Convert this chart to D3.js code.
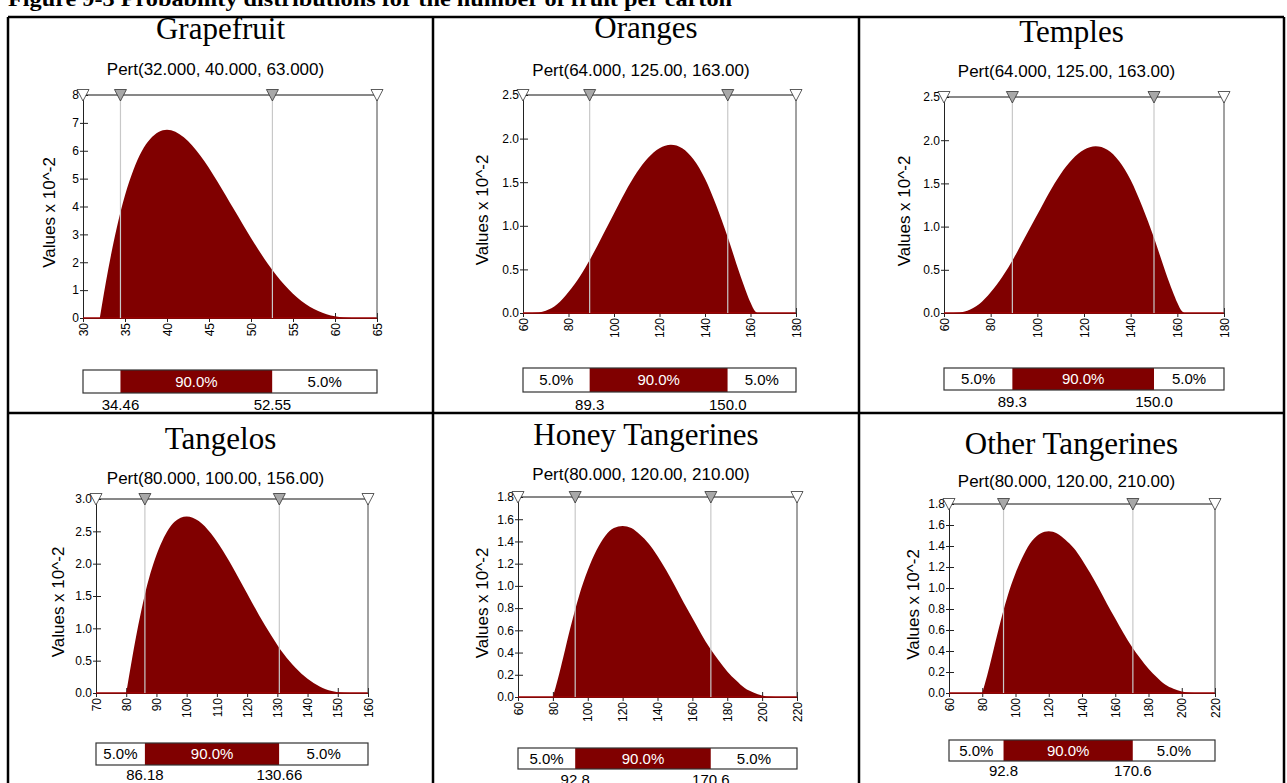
<!DOCTYPE html>
<meta charset="utf-8">
<style>
body { margin: 0; background: #fff; }
svg { display: block; }
.title { font-family: "Liberation Serif", "Times New Roman", serif; font-size: 31px; fill: #000; }
.caption { font-family: "Liberation Serif", "Times New Roman", serif; font-size: 20px; font-weight: bold; }
.pert { font-family: "Liberation Sans", Arial, sans-serif; font-size: 17px; }
.ylab { font-family: "Liberation Sans", Arial, sans-serif; font-size: 17px; }
.axis text { font-family: "Liberation Sans", Arial, sans-serif; font-size: 12px; fill: #000; }
.axis path, .axis line { stroke: #222; }
.bartext { font-family: "Liberation Sans", Arial, sans-serif; font-size: 15px; }
.pct { font-family: "Liberation Sans", Arial, sans-serif; font-size: 15px; }
</style>
<svg width="1287" height="783"></svg>
<script src="https://d3js.org/d3.v7.min.js"></script>
<script>

// --- data ---
var panelNames = ["Grapefruit", "Oranges", "Temples", "Tangelos", "Honey Tangerines", "Other Tangerines"];
var pertLabels = ["Pert(32.000, 40.000, 63.000)", "Pert(64.000, 125.00, 163.00)", "Pert(64.000, 125.00, 163.00)",
                  "Pert(80.000, 100.00, 156.00)", "Pert(80.000, 120.00, 210.00)", "Pert(80.000, 120.00, 210.00)"];

var xDomains = [[30, 65], [60, 180], [60, 180], [70, 160], [60, 220], [60, 220]];
var xTicks = [
  [30, 35, 40, 45, 50, 55, 60, 65],
  [60, 80, 100, 120, 140, 160, 180],
  [60, 80, 100, 120, 140, 160, 180],
  [70, 80, 90, 100, 110, 120, 130, 140, 150, 160],
  [60, 80, 100, 120, 140, 160, 180, 200, 220],
  [60, 80, 100, 120, 140, 160, 180, 200, 220]
];
var yMax = [8, 2.5, 2.5, 3.0, 1.8, 1.8];
var yTicks = [
  [0, 1, 2, 3, 4, 5, 6, 7, 8],
  [0, 0.5, 1.0, 1.5, 2.0, 2.5],
  [0, 0.5, 1.0, 1.5, 2.0, 2.5],
  [0, 0.5, 1.0, 1.5, 2.0, 2.5, 3.0],
  [0, 0.2, 0.4, 0.6, 0.8, 1.0, 1.2, 1.4, 1.6, 1.8],
  [0, 0.2, 0.4, 0.6, 0.8, 1.0, 1.2, 1.4, 1.6, 1.8]
];
var yDecimals = [0, 1, 1, 1, 1, 1];

// density curves (values x 10^-2)
var grapefruitX = [32, 33, 34, 35, 36, 38, 40, 42, 44, 46, 48, 50, 52, 54, 56, 58, 60, 62, 63];
var grapefruitY = [0, 1.74, 3.21, 4.40, 5.31, 6.42, 6.75, 6.48, 5.81, 4.90, 3.88, 2.87, 1.95, 1.18, 0.61, 0.25, 0.06, 0.002, 0];

var orangesX = [64, 67, 70, 75, 80, 85, 90, 95, 100, 105, 110, 115, 120, 125, 130, 135, 140, 145, 150, 155, 158, 160, 162, 163];
var orangesY = [0, 0.005, 0.025, 0.10, 0.24, 0.42, 0.64, 0.89, 1.14, 1.39, 1.61, 1.78, 1.89, 1.93, 1.89, 1.76, 1.54, 1.23, 0.87, 0.47, 0.25, 0.12, 0.02, 0];

var tangelosX = [80, 82, 84, 86, 88, 92, 96, 100, 104, 108, 112, 116, 120, 124, 128, 132, 136, 140, 144, 148, 152, 156];
var tangelosY = [0, 0.55, 1.05, 1.49, 1.85, 2.36, 2.65, 2.73, 2.66, 2.47, 2.20, 1.88, 1.54, 1.20, 0.89, 0.61, 0.39, 0.22, 0.10, 0.03, 0.004, 0];

var tangerinesX = [80, 83, 86, 90, 95, 100, 105, 110, 115, 120, 125, 130, 135, 140, 145, 150, 155, 160, 165, 170, 175, 180, 185, 190, 195, 200, 205, 210];
var tangerinesY = [0, 0.17, 0.36, 0.62, 0.91, 1.14, 1.32, 1.45, 1.52, 1.54, 1.52, 1.46, 1.38, 1.27, 1.14, 1.00, 0.85, 0.71, 0.57, 0.44, 0.33, 0.23, 0.15, 0.08, 0.04, 0.014, 0.002, 0];

var curveX = [grapefruitX, orangesX, orangesX, tangelosX, tangerinesX, tangerinesX];
var curveY = [grapefruitY, orangesY, orangesY, tangelosY, tangerinesY, tangerinesY];

var p5 = [34.46, 89.3, 89.3, 86.18, 92.8, 92.8];
var p95 = [52.55, 150.0, 150.0, 130.66, 170.6, 170.6];
var p5Labels = ["34.46", "89.3", "89.3", "86.18", "92.8", "92.8"];
var p95Labels = ["52.55", "150.0", "150.0", "130.66", "170.6", "170.6"];
var leftPct = ["", "5.0%", "5.0%", "5.0%", "5.0%", "5.0%"];
var midPct = ["90.0%", "90.0%", "90.0%", "90.0%", "90.0%", "90.0%"];
var rightPct = ["5.0%", "5.0%", "5.0%", "5.0%", "5.0%", "5.0%"];

var caption = "Figure 9-3 Probability distributions for the number of fruit per carton";

// --- layout (pixel positions of each cell) ---
var layout = [
  {cell: [8, 433],    left: 83,  right: 377,  top: 95,  bottom: 318, titleY: 39,  pertY: 75,  barTop: 370, barBottom: 393, pctY: 410, ylabX: 49},
  {cell: [433, 859],  left: 523, right: 796,  top: 95,  bottom: 313, titleY: 38,  pertY: 76,  barTop: 368, barBottom: 392, pctY: 410, ylabX: 482},
  {cell: [859, 1284], left: 944, right: 1224, top: 97,  bottom: 313, titleY: 42,  pertY: 77,  barTop: 368, barBottom: 390, pctY: 407, ylabX: 904},
  {cell: [8, 433],    left: 96,  right: 368,  top: 499, bottom: 693, titleY: 449, pertY: 484, barTop: 743, barBottom: 765, pctY: 780, ylabX: 58},
  {cell: [433, 859],  left: 518, right: 797,  top: 497, bottom: 697, titleY: 445, pertY: 480, barTop: 748, barBottom: 769, pctY: 785, ylabX: 482},
  {cell: [859, 1284], left: 949, right: 1215, top: 504, bottom: 693, titleY: 454, pertY: 487, barTop: 740, barBottom: 761, pctY: 776, ylabX: 913}
];

var red = "#800000";

var svg = d3.select("svg");

// caption, cut at the top edge like the scan
svg.append("text")
    .attr("class", "caption")
    .attr("x", 8)
    .attr("y", 6)
    .attr("textLength", 724)
    .attr("lengthAdjust", "spacingAndGlyphs")
    .text(caption);

// table grid
var gridX = [8, 433, 859, 1284];
var gridY = [17, 413];
svg.selectAll(".vgrid").data(gridX).enter().append("line")
    .attr("x1", function(d) { return d; }).attr("x2", function(d) { return d; })
    .attr("y1", 17).attr("y2", 800)
    .attr("stroke", "#000").attr("stroke-width", 2.5);
svg.selectAll(".hgrid").data(gridY).enter().append("line")
    .attr("x1", 8).attr("x2", 1284)
    .attr("y1", function(d) { return d; }).attr("y2", function(d) { return d; })
    .attr("stroke", "#000").attr("stroke-width", 2.5);

var triPath = "M-6,-5.5L6,-5.5L0,6Z";

function drawPanel(i) {
  var L = layout[i];
  var g = svg.append("g");
  var cx = (L.cell[0] + L.cell[1]) / 2;

  var x = d3.scaleLinear().domain(xDomains[i]).range([L.left, L.right]);
  var y = d3.scaleLinear().domain([0, yMax[i]]).range([L.bottom, L.top]);

  g.append("text").attr("class", "title")
      .attr("x", cx).attr("y", L.titleY)
      .attr("text-anchor", "middle")
      .text(panelNames[i]);

  g.append("text").attr("class", "pert")
      .attr("x", cx - 5).attr("y", L.pertY)
      .attr("text-anchor", "middle")
      .text(pertLabels[i]);

  g.append("text").attr("class", "ylab")
      .attr("transform", "translate(" + L.ylabX + "," + ((L.top + L.bottom) / 2 + 6) + ") rotate(-90)")
      .attr("dy", "0.35em")
      .attr("text-anchor", "middle")
      .text("Values x 10^-2");

  // axes
  var yAxis = g.append("g").attr("class", "axis")
      .attr("transform", "translate(" + L.left + ",0)")
      .call(d3.axisLeft(y).tickValues(yTicks[i]).tickSize(3).tickSizeOuter(0).tickPadding(1)
        .tickFormat(d3.format("." + yDecimals[i] + "f")));
  yAxis.selectAll(".tick line").attr("x1", 5);

  var xAxis = g.append("g").attr("class", "axis")
      .attr("transform", "translate(0," + L.bottom + ")")
      .call(d3.axisBottom(x).tickValues(xTicks[i]).tickSize(4).tickSizeOuter(0).tickFormat(d3.format("d")));
  xAxis.selectAll(".tick line").attr("y1", -5);
  xAxis.selectAll(".tick text")
      .attr("transform", "rotate(-90)")
      .attr("x", -5).attr("y", 0).attr("dy", "0.35em")
      .style("text-anchor", "end");

  // density
  var pts = curveX[i].map(function(v, k) { return [v, curveY[i][k]]; });
  var area = d3.area()
      .x(function(d) { return x(d[0]); })
      .y0(y(0))
      .y1(function(d) { return y(d[1]); })
      .curve(d3.curveMonotoneX);
  g.append("path").datum(pts)
      .attr("d", area)
      .attr("fill", red);

  g.append("line")
      .attr("x1", x(xDomains[i][0])).attr("x2", x(xDomains[i][1]))
      .attr("y1", y(0)).attr("y2", y(0))
      .attr("stroke", "#a00000").attr("stroke-width", 1.5);

  // percentile guide lines
  g.selectAll(".pline").data([p5[i], p95[i]]).enter().append("line")
      .attr("x1", function(d) { return x(d); }).attr("x2", function(d) { return x(d); })
      .attr("y1", y(yMax[i])).attr("y2", y(0))
      .attr("stroke", "#c8c8c8").attr("stroke-width", 1.2);

  // frame: top and right
  g.append("line")
      .attr("x1", x(xDomains[i][0])).attr("x2", x(xDomains[i][1]))
      .attr("y1", y(yMax[i])).attr("y2", y(yMax[i]))
      .attr("stroke", "#111");
  g.append("line")
      .attr("x1", x(xDomains[i][1])).attr("x2", x(xDomains[i][1]))
      .attr("y1", y(yMax[i])).attr("y2", y(0))
      .attr("stroke", "#444");

  // triangle markers
  var markers = [
    {v: xDomains[i][0], fill: "#fff"},
    {v: p5[i], fill: "#a8a8a8"},
    {v: p95[i], fill: "#a8a8a8"},
    {v: xDomains[i][1], fill: "#fff"}
  ];
  g.selectAll(".tri").data(markers).enter().append("path")
      .attr("d", triPath)
      .attr("transform", function(d) { return "translate(" + x(d.v) + "," + y(yMax[i]) + ")"; })
      .attr("fill", function(d) { return d.fill; })
      .attr("stroke", "#333").attr("stroke-width", 0.8);

  // percentile bar
  var segs = [
    {a: xDomains[i][0], b: p5[i], fill: "#fff", label: leftPct[i], color: "#000"},
    {a: p5[i], b: p95[i], fill: red, label: midPct[i], color: "#fff"},
    {a: p95[i], b: xDomains[i][1], fill: "#fff", label: rightPct[i], color: "#000"}
  ];
  var bh = L.barBottom - L.barTop;
  g.selectAll(".seg").data(segs).enter().append("rect")
      .attr("x", function(d) { return x(d.a); })
      .attr("width", function(d) { return x(d.b) - x(d.a); })
      .attr("y", L.barTop).attr("height", bh)
      .attr("fill", function(d) { return d.fill; });
  g.append("rect")
      .attr("x", x(xDomains[i][0])).attr("y", L.barTop)
      .attr("width", x(xDomains[i][1]) - x(xDomains[i][0])).attr("height", bh)
      .attr("fill", "none").attr("stroke", "#333").attr("stroke-width", 1.2);
  g.selectAll(".segtext").data(segs).enter().append("text")
      .attr("class", "bartext")
      .attr("x", function(d) { return (x(d.a) + x(d.b)) / 2; })
      .attr("y", L.barTop + bh / 2)
      .attr("dy", "0.35em")
      .attr("text-anchor", "middle")
      .attr("fill", function(d) { return d.color; })
      .text(function(d) { return d.label; });

  g.selectAll(".pcttext").data([[p5[i], p5Labels[i]], [p95[i], p95Labels[i]]]).enter().append("text")
      .attr("class", "pct")
      .attr("x", function(d) { return x(d[0]); })
      .attr("y", L.pctY)
      .attr("text-anchor", "middle")
      .text(function(d) { return d[1]; });
}

for (var i = 0; i < panelNames.length; i++) drawPanel(i);

</script>
